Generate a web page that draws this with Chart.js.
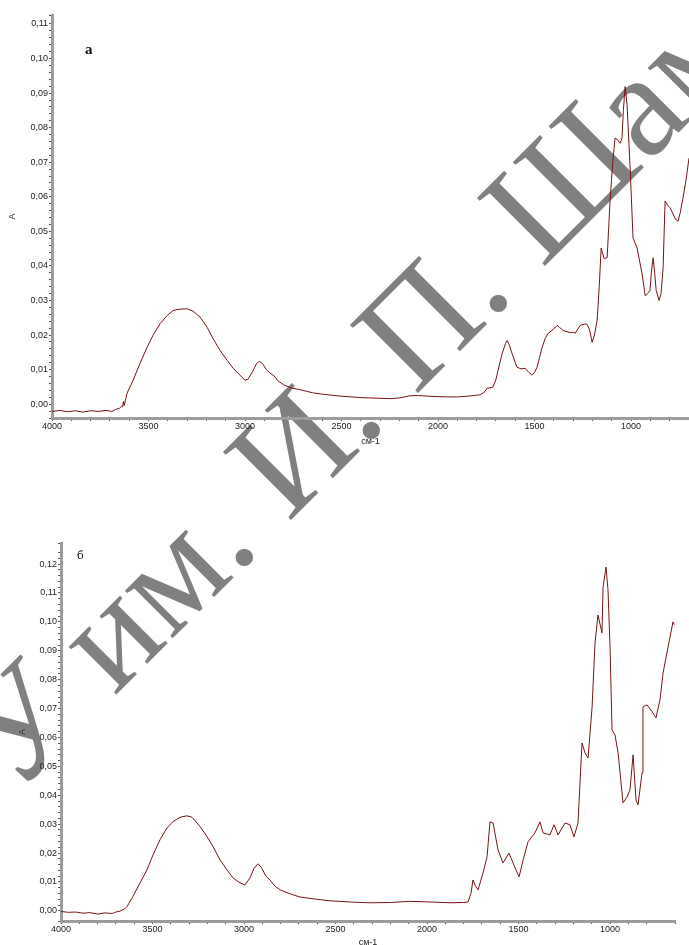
<!DOCTYPE html>
<html>
<head>
<meta charset="utf-8">
<script src="https://cdn.jsdelivr.net/npm/chart.js@4"></script>
<style>
    html, body { margin: 0; padding: 0; background: #fff; overflow: hidden; }
    #wrap { position: relative; width: 689px; height: 945px; overflow: hidden; }
    #wm { position: absolute; left: 0; top: 0; }
    #wmText { font-family: "Liberation Serif", "DejaVu Serif", serif; font-size: 147px; font-weight: normal; fill: #808080; }
    canvas { position: absolute; left: 0; }
    #c1 { top: 0; }
    #c2 { top: 520px; }
    .lbl { position: absolute; font-family: "Liberation Serif", serif; color: #111; line-height: 1; }
</style>
</head>
<body>
<div id="wrap">
    <svg id="wm" width="689" height="945">
        <text id="wmText">ГУ им. И. П. Шамякина</text>
    </svg>
    <canvas id="c1" width="689" height="450"></canvas>
    <canvas id="c2" width="689" height="430"></canvas>
    <div class="lbl" style="left:85px;top:42px;font-size:15px;font-weight:bold">а</div>
    <div class="lbl" style="left:77px;top:548px;font-size:13px">б</div>
</div>
<script>
// spectrum a
const wn1 = [4000, 3960, 3920, 3880, 3840, 3800, 3760, 3720, 3690, 3670, 3650, 3640, 3634, 3630, 3626, 3611,
    3580, 3544, 3508, 3477, 3440, 3404, 3373, 3337, 3301, 3269, 3233, 3197, 3166, 3130, 3093, 3062, 3026, 3000,
    2985, 2960, 2940, 2925, 2910, 2890, 2870, 2850, 2830, 2800, 2760, 2715, 2650, 2600, 2500, 2400, 2300, 2250,
    2200, 2150, 2100, 2050, 2000, 1950, 1900, 1850, 1800, 1782, 1760, 1746, 1725, 1715, 1700, 1689, 1668, 1650,
    1642, 1630, 1617, 1600, 1591, 1570, 1549, 1530, 1513, 1500, 1487, 1461, 1445, 1430, 1400, 1383, 1370, 1352,
    1316, 1300, 1290, 1264, 1240, 1228, 1215, 1202, 1190, 1176, 1165, 1155, 1140, 1124, 1109, 1095, 1083, 1070,
    1057, 1047, 1040, 1031, 1021, 1005, 990, 969, 943, 927, 915, 902, 895, 886, 878, 870, 855, 845, 834, 824,
    810, 798, 782, 770, 756, 745, 731, 715, 700];
const abs1 = [-0.0021, -0.0018, -0.0022, -0.0019, -0.0023, -0.0019, -0.0021, -0.0018, -0.0021, -0.0015, -0.0012, -0.0006, -0.0008, 0.0008, -0.0004, 0.0032,
    0.0069, 0.0118, 0.0164, 0.0199, 0.0233, 0.0256, 0.0271, 0.0275, 0.0276, 0.0269, 0.0252, 0.0223, 0.0190, 0.0156, 0.0127, 0.0104, 0.0084, 0.0069,
    0.0072, 0.0095, 0.0118, 0.0124, 0.0118, 0.0100, 0.0090, 0.0082, 0.0068, 0.0056, 0.0047, 0.0042, 0.0033, 0.0029, 0.0023, 0.0019, 0.0017, 0.0016,
    0.0018, 0.0024, 0.0025, 0.0023, 0.0022, 0.0021, 0.0021, 0.0023, 0.0026, 0.0027, 0.0035, 0.0046, 0.0048, 0.0050, 0.0072, 0.0098, 0.0147, 0.0176,
    0.0184, 0.0170, 0.0147, 0.0120, 0.0107, 0.0102, 0.0104, 0.0092, 0.0084, 0.0092, 0.0107, 0.0164, 0.0190, 0.0205, 0.0218, 0.0228, 0.0222, 0.0213,
    0.0207, 0.0208, 0.0205, 0.0228, 0.0232, 0.0231, 0.0215, 0.0179, 0.0200, 0.0242, 0.0340, 0.0452, 0.0421, 0.0424, 0.0588, 0.0700, 0.0770, 0.0765,
    0.0755, 0.0770, 0.0850, 0.0919, 0.0867, 0.0683, 0.0481, 0.0452, 0.0377, 0.0314, 0.0320, 0.0329, 0.0380, 0.0424, 0.0380, 0.0329, 0.0300, 0.0320, 0.0395, 0.0588,
    0.0575, 0.0568, 0.0550, 0.0535, 0.0530, 0.0555, 0.0597, 0.0650, 0.0712];

// spectrum б
const wn2 = [4000, 3960, 3920, 3880, 3840, 3800, 3760, 3720, 3700, 3678, 3650, 3639, 3607, 3568, 3530, 3497,
    3459, 3421, 3388, 3350, 3311, 3284, 3240, 3202, 3169, 3131, 3093, 3060, 3022, 2995, 2967, 2945, 2923, 2905,
    2880, 2858, 2830, 2800, 2776, 2730, 2694, 2600, 2530, 2400, 2311, 2200, 2148, 2100, 2038, 1950, 1874, 1800,
    1776, 1760, 1749, 1735, 1721, 1694, 1672, 1656, 1639, 1612, 1585, 1552, 1519, 1497, 1475, 1448, 1410, 1383,
    1366, 1328, 1306, 1284, 1246, 1219, 1197, 1175, 1153, 1137, 1120, 1098, 1082, 1066, 1044, 1038, 1022, 1011,
    1000, 989, 973, 956, 929, 907, 891, 874, 858, 847, 825, 820, 798, 770, 749, 727, 710, 683, 656, 648];
const abs2 = [-0.0002, -0.0005, -0.0004, -0.0008, -0.0006, -0.0011, -0.0007, -0.0009, -0.0004, -0.0001, 0.0008, 0.0015, 0.0050, 0.0097, 0.0142, 0.0194,
    0.0246, 0.0287, 0.0309, 0.0324, 0.0329, 0.0324, 0.0292, 0.0257, 0.0222, 0.0176, 0.0142, 0.0114, 0.0097, 0.0090, 0.0114, 0.0148, 0.0163, 0.0150,
    0.0120, 0.0107, 0.0085, 0.0072, 0.0066, 0.0055, 0.0048, 0.0040, 0.0035, 0.0030, 0.0028, 0.0029, 0.0031, 0.0033, 0.0032, 0.0030, 0.0028, 0.0029,
    0.0031, 0.0060, 0.0107, 0.0085, 0.0073, 0.0131, 0.0187, 0.0308, 0.0304, 0.0211, 0.0166, 0.0200, 0.0149, 0.0118, 0.0176, 0.0239, 0.0270, 0.0308,
    0.0270, 0.0263, 0.0298, 0.0263, 0.0304, 0.0298, 0.0256, 0.0304, 0.0581, 0.0547, 0.0529, 0.0706, 0.0927, 0.1024, 0.0962, 0.1121, 0.1190, 0.1110,
    0.0913, 0.0626, 0.0609, 0.0547, 0.0374, 0.0394, 0.0419, 0.0540, 0.0384, 0.0367, 0.0478, 0.0706, 0.0713, 0.0689, 0.0668, 0.0730, 0.0824, 0.0913, 0.1000, 0.0990];

const lineColor = "#7a1212";
const tickFont = { family: "Liberation Sans", size: 9 };

function yLabel(v) {
    const h = v * 100;
    if (Math.abs(h - Math.round(h)) > 1e-6) return "";
    return (Math.round(h) / 100).toFixed(2).replace(".", ",");
}

function xLabel(v) {
    const r = Math.round(v);
    return Math.abs(v - r) < 1e-6 && r % 500 === 0 ? String(r) : "";
}

function makeChart(id, wn, ab, o) {
    return new Chart(document.getElementById(id), {
        type: "line",
        data: {
            datasets: [{
                data: wn.map((w, i) => ({ x: w, y: ab[i] })),
                borderColor: lineColor,
                borderWidth: 1,
                pointRadius: 0,
                tension: 0,
            }]
        },
        options: {
            responsive: false,
            animation: false,
            devicePixelRatio: 1,
            layout: { padding: { top: o.top, left: 0, right: o.right, bottom: 0 } },
            plugins: { legend: { display: false }, tooltip: { enabled: false } },
            scales: {
                x: {
                    type: "linear",
                    reverse: true,
                    min: o.xmin,
                    max: 4000,
                    afterFit: s => { s.height = o.xh; },
                    border: { display: true, color: "#9c9c9c", width: 3 },
                    grid: { drawOnChartArea: false, drawTicks: true, tickLength: 3, color: "#555" },
                    ticks: {
                        stepSize: 100, autoSkip: false, maxRotation: 0, padding: 0,
                        color: "#222", font: tickFont,
                        callback: xLabel,
                    },
                    title: { display: true, text: "см-1", color: "#222", font: tickFont, padding: { top: 0, bottom: o.tb } },
                },
                y: {
                    min: o.ymin,
                    max: o.ymax,
                    afterFit: s => { s.width = o.yw; },
                    border: { display: true, color: "#9c9c9c", width: 3 },
                    grid: { drawOnChartArea: false, drawTicks: true, tickLength: 3, color: "#555" },
                    ticks: {
                        stepSize: 0.002, autoSkip: false, padding: 1,
                        color: "#222", font: tickFont,
                        callback: yLabel,
                    },
                    title: { display: true, text: "A", color: "#333", font: tickFont, padding: { top: o.yt, bottom: 0 } },
                },
            },
        },
    });
}

makeChart("c1", wn1, abs1, { top: 15, right: 0, xmin: 700, xh: 32, tb: 3, ymin: -0.004, ymax: 0.1126, yw: 52, yt: 7 });
makeChart("c2", wn2, abs2, { top: 23, right: 14, xmin: 645, xh: 29, tb: 2, ymin: -0.0035, ymax: 0.1273, yw: 61, yt: 17 });

// watermark text along the diagonal
const t = document.getElementById("wmText");
const mc = document.createElement("canvas").getContext("2d");
mc.font = '147px "Liberation Serif"';
const before = mc.measureText("ГУ им. И").width + mc.measureText(".").width / 2;
const d = Math.SQRT1_2;
const x0 = 376 - before * d, y0 = 435 + before * d;
t.setAttribute("x", x0);
t.setAttribute("y", y0);
t.setAttribute("transform", `rotate(-45 ${x0} ${y0})`);
</script>
</body>
</html>
